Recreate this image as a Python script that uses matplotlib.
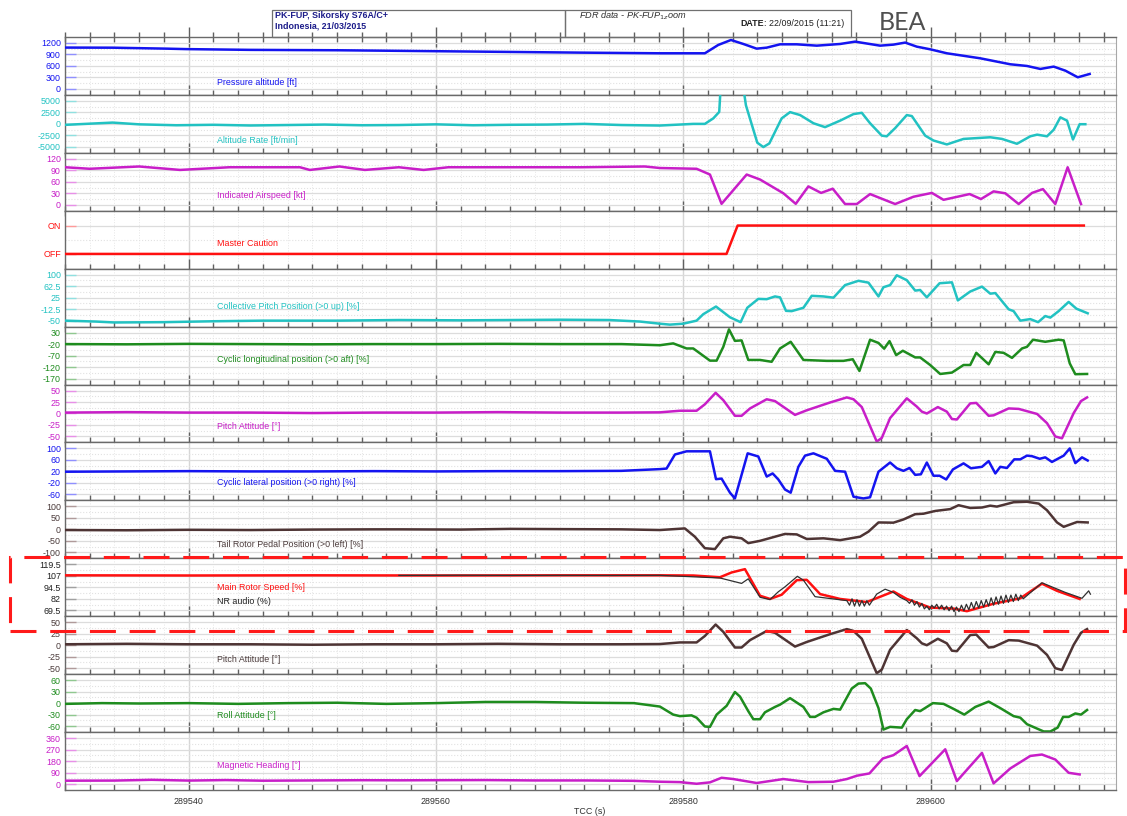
# -*- coding: utf-8 -*-
"""
FDR data - PK-FUP zoom : 13 paramètres empilés en fonction du TCC
"""

import numpy as np
import matplotlib
matplotlib.use("Agg")
import matplotlib.pyplot as plt
from matplotlib.patches import Rectangle
from matplotlib.ticker import MultipleLocator, FixedLocator

plt.rcParams['font.family'] = ['Liberation Sans', 'DejaVu Sans']

TCC0 = 289500.0   # les temps ci-dessous sont en secondes après TCC0

# Pressure altitude [ft]
t_palt = [30, 33.85, 38.2, 39.8, 45, 52, 57, 63.5, 71.7, 78.1, 81.75, 82.83, 83.86,
          84.86, 85.94, 86.75, 87.83, 89.18, 90.8, 92.69, 93.9, 95.92, 97.0, 97.95,
          98.89, 99.97, 101.32, 104.02, 106.45, 107.8, 108.88, 109.96, 110.9, 111.91, 112.87]
palt = [1080, 1077, 1052, 1040, 1020, 1010, 995, 974, 948, 931, 931, 1148, 1278,
        1174, 1052, 1078, 1165, 1165, 1130, 1174, 1235, 1130, 1157, 1210,
        1104, 1035, 931, 800, 644, 600, 522, 583, 478, 304, 391]

# Altitude Rate [ft/min]  (sort du cadre entre 83 et 85 s)
t_vz = [30, 33.85, 36, 39, 42, 45, 48, 51, 54, 57, 60, 63, 66, 69, 72, 75, 78.11,
        80.81, 81.75, 82.43, 82.91, 83.05, 84.80, 85.07, 85.99, 86.48, 86.96, 87.96,
        88.64, 89.45, 90.53, 91.47, 92.69, 93.77, 94.44, 95.11, 96.06, 96.46, 97.14,
        98.08, 98.49, 99.57, 100.24, 101.32, 102.67, 104.83, 105.78, 106.99, 108.07,
        108.62, 109.42, 109.96, 110.5, 111.04, 111.52, 112.06, 112.52]
vz = [-210, 280, -100, -300, -200, -350, -250, -150, -300, -250, -100, -300, -200,
      -150, 0, -250, -360,
      0, 0, 1200, 2600, 9000, 9000, 4050, -4100, -5040, -4260, 1200,
      2560, 1920, 140, -710, 710, 2130, 2410, 140, -2560, -2700, -920,
      1920, 1700, -2560, -3620, -4470, -3270, -2910, -3270, -4330, -2700,
      -2340, -2700, -1280, 1420, 710, -3400, -70, -70]

# Indicated Airspeed [kt]
t_ias = [30, 32, 36, 39.3, 43.3, 49, 49.8, 52.2, 54.25, 57, 59, 61, 66, 71.7, 76.9,
         78.11, 81.08, 82.16, 83.1, 85.13, 86.21, 88.1, 89.1, 90.12, 91.15, 92.09,
         93.09, 94.04, 95.11, 97.14, 98.62, 100.11, 101.05, 103.16, 104.08, 105.1,
         106.05, 107.13, 108.21, 109.09, 110.09, 111.09, 112.17]
ias = [98, 94, 100, 91, 98, 98, 91, 100, 91, 98, 91, 98, 98, 98, 100,
       96, 94, 79, 2.5, 79, 66, 30, 2.5, 48, 31, 42,
       2, 2, 28, 2, 21, 31, 13, 28, 15, 35,
       30, 2, 31, 41, 2, 98, 2]

# Master Caution (0 = OFF, 1 = ON)
t_mc = [30, 83.5, 84.4, 112.4]
mc = [0, 0, 1, 1]

# Collective Pitch Position (>0 up) [%]
t_coll = [30, 32.5, 34, 38, 42, 46, 52, 57, 62, 66, 70, 74, 76.5, 78.11, 78.92,
          80.0, 81.08, 81.62, 82.65, 83.78, 84.64, 85.18, 86.07, 86.75, 87.42, 87.83,
          88.31, 88.77, 89.72, 90.39, 91.34, 92.15, 93.09, 94.17, 94.98, 95.79, 96.19,
          96.73, 97.27, 98.08, 98.76, 99.16, 99.7, 100.73, 101.73, 102.21, 103.21,
          104.16, 104.83, 105.24, 106.32, 106.72, 107.26, 108.07, 108.7, 109.28,
          109.69, 110.36, 111.17, 111.8, 112.71]
coll = [-50, -53, -56, -55, -52, -50, -50, -48, -49, -48, -47, -48, -53, -60, -63,
        -60, -50, -29, -4, -39, -55, -8, 21, 20, 29, 26,
        -18, -19, -8, 31, 29, 25, 66, 80, 74, 29, 59,
        66, 98, 82, 48, 50, 26, 72, 75, 16, 45,
        61, 38, 40, -13, -19, -50, -45, -55, -35,
        -40, -19, 11, -11, -26]

# Cyclic longitudinal position (>0 aft) [%]
t_clon = [30, 35, 40, 45, 50, 55, 60, 65, 70, 75, 78.11, 79.19, 80.27, 80.81, 82.16,
          82.7, 83.24, 83.7, 84.18, 84.72, 85.26, 86.21, 87.15, 87.83, 88.69, 89.72,
          91.61, 92.96, 93.71, 94.25, 95.11, 95.79, 96.25, 96.68, 97.22, 97.76, 98.76,
          99.16, 99.97, 100.78, 101.73, 102.67, 103.21, 103.7, 104.7, 105.24, 105.91,
          106.59, 107.4, 107.8, 108.29, 109.28, 110.36, 110.77, 111.26, 111.71, 112.66]
clon = [-20, -21, -19, -20, -21, -20, -20, -19, -20, -20, -25, -17, -39, -39, -92,
        -92, -32, 44, -6, -4, -89, -89, -97, -39, -10, -89,
        -93, -93, -86, -137, -1, -15, -40, -7, -68, -49, -78,
        -78, -111, -150, -144, -111, -111, -58, -108, -54, -58,
        -80, -39, -32, -1, -10, -1, -4, -104, -151, -150]

# Pitch Attitude [°]
t_pitch = [30, 35, 40, 45, 50, 55, 60, 65, 70, 75, 78.11, 79.73, 81.08, 81.75, 82.62,
           83.24, 84.18, 84.72, 85.4, 86.75, 87.42, 89.04, 89.99, 91.88, 93.23, 93.77,
           94.44, 95.65, 96.06, 96.73, 98.08, 98.89, 99.3, 99.7, 100.59, 101.32,
           101.73, 102.13, 103.21, 103.7, 104.7, 105.1, 106.32, 107.13, 108.62,
           109.42, 110.09, 110.63, 111.58, 112.17, 112.66]
pitch = [2, 3, 2, 2, 1, 2, 2, 3, 2, 2, 2.5, 6, 6, 20, 45,
         29, -5, -5, 11, 31, 27, -3, 7, 24, 35, 31,
         14, -61, -53, -10, 33, 15, 4, 0, 14, 4,
         -12, -13, 22, 23, -5, -4, 11, 10, -1,
         -21, -50, -54, 1, 27, 35]

# Cyclic lateral position (>0 right) [%]
t_clat = [30, 35, 40, 45, 50, 55, 60, 65, 70, 75, 78.11, 78.65, 79.33, 80.27, 82.16,
          82.65, 83.1, 83.78, 84.18, 85.21, 86.07, 86.75, 87.23, 87.69, 88.23, 88.69,
          89.31, 89.85, 90.53, 91.61, 92.28, 93.09, 93.77, 94.57, 95.11, 95.79, 96.73,
          97.27, 97.81, 98.3, 98.76, 99.22, 99.7, 100.24, 100.73, 101.27, 101.81,
          102.67, 103.27, 104.16, 104.7, 105.24, 105.64, 106.18, 106.77, 107.26,
          107.8, 108.21, 108.83, 109.28, 109.82, 110.77, 111.26, 111.71, 112.25, 112.71]
clat = [19, 20, 21, 20, 20, 21, 20, 21, 21, 22, 28, 30, 79, 90, 90,
        -7, -5, -54, -74, 83, 72, 2, 13, -8, -43, -54,
        36, 75, 83, 64, 22, 19, -68, -74, -70, 19, 51,
        31, 22, 32, 8, 10, 51, 5, 5, -8, 27,
        48, 31, 36, 56, 13, 36, 32, 62, 62,
        75, 73, 64, 69, 53, 75, 100, 49, 69, 58]

# Tail Rotor Pedal Position (>0 left) [%]
t_ped = [30, 35, 40, 45, 50, 55, 57, 62, 66, 70, 75, 78.11, 80.13, 80.94, 81.75,
         82.56, 83.24, 83.78, 84.72, 85.26, 86.21, 87.42, 88.23, 89.18, 89.99, 91.34,
         92.69, 94.3, 94.98, 95.79, 97.0, 97.81, 98.76, 99.43, 100.38, 101.59, 102.27,
         103.21, 104.16, 104.83, 105.37, 106.72, 107.8, 108.75, 109.42, 110.23,
         110.77, 111.85, 112.71]
ped = [-3, -4, -2, -3, -1, 0, 0, -1, 2, 1, 0, -3, 4, -32, -82,
       -86, -39, -32, -39, -60, -50, -32, -20, -22, -42, -39,
       -47, -32, -10, 30, 29, 43, 66, 68, 80, 88, 105,
       93, 95, 103, 99, 118, 120, 112, 83, 30,
       11, 32, 30]

# Main Rotor Speed [%]
t_nr = [30, 40, 50, 60, 70, 78.11, 80.81, 82.97, 83.91, 84.99, 86.21, 87.02, 87.96,
        89.18, 89.99, 91.07, 92.69, 94.84, 97.0, 98.08, 99.97, 101.86, 102.94,
        105.1, 107.26, 109.01, 110.23, 112.06]
nr = [107.5, 107.3, 107.5, 107.3, 107.5, 107.5, 107.3, 105.4, 110.6, 114.2, 85.3, 81.8, 86.4,
      102.2, 102.6, 87.1, 81.8, 78.4, 89.9, 81.8, 72.4, 71.3, 68.5,
      76.6, 82.5, 98.4, 90.6, 81.8]

# NR audio (%)
t_nra = [57, 62, 66, 70, 74, 78.11, 82.97, 84.72, 85.26, 86.21, 87.02, 87.69, 88.23,
         89.23, 89.72, 90.66, 92.15, 93.23,
         93.45, 93.65, 93.85, 94.05, 94.25, 94.45, 94.65, 94.85, 95.05,
         95.65, 96.33, 97.0, 97.54, 98.08,
         98.3, 98.5, 98.7, 98.9, 99.1, 99.3, 99.5, 99.7, 99.9,
         100.1, 100.3, 100.5, 100.7, 100.9, 101.1, 101.3, 101.5, 101.7, 101.9,
         102.1, 102.3, 102.5, 102.7, 102.9, 103.1, 103.3, 103.5, 103.7, 103.9,
         104.1, 104.3, 104.5, 104.7, 104.9, 105.1, 105.3, 105.5, 105.7, 105.9,
         106.1, 106.3, 106.5, 106.7, 106.9, 107.1, 107.3, 107.5,
         109.01, 110.9, 112.25, 112.79, 112.93]
nra = [107.4, 107.6, 107.4, 107.5, 107.4, 107.5, 104.6, 98.7, 103.7, 83.6, 81.1, 89.6, 95,
       106.4, 102.2, 84.3, 81.8, 80,
       75, 82, 74, 81, 74, 80, 74, 80, 75,
       87.1, 92.4, 88.9, 83.6, 80,
       77, 81, 75, 79, 73, 77, 71, 74, 70,
       75, 72, 76, 71, 75, 70, 74, 69, 74, 68,
       73, 68, 75, 69, 76, 70, 78, 71, 79, 72,
       80, 73, 81, 74, 83, 75, 84, 76, 85, 77,
       86, 78, 86, 79, 87, 80, 86, 82,
       99.4, 88.9, 82.5, 90.6, 87]

# Roll Attitude [°]
t_roll = [30, 33, 36, 40, 44, 48, 52, 56, 60, 64, 68, 72, 76, 78.11, 79.19, 79.73,
          80.67, 81.08, 81.75, 82.16, 82.7, 83.51, 84.18, 84.59, 85.26, 85.67, 86.21,
          86.61, 87.42, 87.83, 88.64, 89.72, 90.26, 90.66, 91.34, 92.15, 92.69, 93.63,
          94.17, 94.71, 95.17, 95.79, 96.19, 96.73, 97.68, 98.08, 98.76, 99.16,
          100.19, 101.05, 101.86, 102.73, 103.62, 104.7, 105.64, 106.72, 107.26,
          107.8, 109.15, 109.69, 110.28, 110.72, 111.17, 111.71, 112.17, 112.66]
roll = [-2, 0, -1, 0, -2, 0, 1, -2, 0, 3, 3, 1, 0, -9, -30, -34,
        -32, -38, -61, -62, -30, -7, 29, 17, -21, -42, -42,
        -24, -10, -4, 13, -10, -36, -36, -24, -15, -17, 38,
        51, 52, 38, -13, -69, -62, -64, -42, -18, -21,
        0, -2, -15, -30, -10, 4, -13, -34, -38,
        -55, -74, -74, -64, -36, -36, -27, -30, -18]

# Magnetic Heading [°]
t_hdg = [30, 34, 37, 40, 43, 46, 50, 54, 57, 60, 64, 68, 72, 76, 78.11, 79.73, 81.08,
         82.16, 83.1, 84.05, 85.94, 88.1, 90.12, 92.15, 93.23, 94.04, 95.06, 96.14,
         97.0, 98.08, 99.11, 101.19, 102.13, 104.16, 105.1, 106.45, 108.07, 109.01,
         110.09, 111.17, 112.06]
hdg = [26, 27, 33, 27, 31, 26, 28, 30, 29, 30, 31, 28, 28, 25, 18, 15, 2,
       13, 49, 39, 8, 39, 15, 18, 39, 65, 83, 200,
       226, 298, 62, 272, 23, 244, 5, 122, 220, 231,
       192, 88, 75]

BLUE = '#1414f0'
CYAN = '#22c2c2'
MAGENTA = '#c81ec8'
RED = '#ff1010'
GREEN = '#1e8c1e'
BROWN = '#4e3434'

# (t, valeurs, couleur, ticks, libellés, texte, y du texte, couleur du texte, clair)
panels = [
    (t_palt, palt, BLUE, [0, 300, 600, 900, 1200], None,
     'Pressure altitude [ft]', 0.21, BLUE, '#9090ff'),
    (t_vz, vz, CYAN, [-5000, -2500, 0, 2500, 5000], None,
     'Altitude Rate [ft/min]', 0.22, CYAN, '#90e0e0'),
    (t_ias, ias, MAGENTA, [0, 30, 60, 90, 120], None,
     'Indicated Airspeed [kt]', 0.26, MAGENTA, '#e890e8'),
    (t_mc, mc, RED, [0, 1], ['OFF', 'ON'],
     'Master Caution', 0.43, RED, '#ff9a9a'),
    (t_coll, coll, CYAN, [-50, -12.5, 25, 62.5, 100], ['-50', '-12.5', '25', '62.5', '100'],
     'Collective Pitch Position (>0 up) [%]', 0.345, CYAN, '#90e0e0'),
    (t_clon, clon, GREEN, [-170, -120, -70, -20, 30], None,
     'Cyclic longitudinal position (>0 aft) [%]', 0.43, GREEN, '#90c890'),
    (t_pitch, pitch, MAGENTA, [-50, -25, 0, 25, 50], None,
     'Pitch Attitude [°]', 0.276, MAGENTA, '#e890e8'),
    (t_clat, clat, BLUE, [-60, -20, 20, 60, 100], None,
     'Cyclic lateral position (>0 right) [%]', 0.31, BLUE, '#9090ff'),
    (t_ped, ped, BROWN, [-100, -50, 0, 50, 100], None,
     'Tail Rotor Pedal Position (>0 left) [%]', 0.245, '#4a3a3a', '#b09a9a'),
    (t_nr, nr, RED, [69.5, 82, 94.5, 107, 119.5], ['69.5', '82', '94.5', '107', '119.5'],
     'Main Rotor Speed [%]', 0.50, RED, '#a0a0a0'),
    (t_pitch, pitch, BROWN, [-50, -25, 0, 25, 50], None,
     'Pitch Attitude [°]', 0.26, '#4a3a3a', '#b09a9a'),
    (t_roll, roll, GREEN, [-60, -30, 0, 30, 60], None,
     'Roll Attitude [°]', 0.29, GREEN, '#90c890'),
    (t_hdg, hdg, MAGENTA, [0, 90, 180, 270, 360], None,
     'Magnetic Heading [°]', 0.43, MAGENTA, '#e890e8'),
]

W, H = 1127, 816
fig = plt.figure(figsize=(W / 100, H / 100), dpi=100)
gs = fig.add_gridspec(len(panels), 1, left=65 / W, right=1116 / W,
                      top=1 - 37 / H, bottom=1 - 790 / H, hspace=0)
axes = [fig.add_subplot(gs[i]) for i in range(len(panels))]

for i, (ax, p) in enumerate(zip(axes, panels)):
    t, v, col, ticks, labels, name, ly, lcol, light = p
    step = ticks[1] - ticks[0]
    ax.set_xlim(289530, 289615)
    ax.set_ylim(ticks[0] - 0.52 * step, ticks[-1] + 0.52 * step)

    ax.plot(TCC0 + np.array(t), v, color=col, lw=1.8, solid_joinstyle='round', zorder=3)
    if i == 9:
        ax.plot(TCC0 + np.array(t_nra), nra, color='#303030', lw=0.9, zorder=4)

    # axe y
    ax.yaxis.set_major_locator(FixedLocator(ticks))
    mids = [(a + b) / 2 for a, b in zip(ticks[:-1], ticks[1:])]
    ax.yaxis.set_minor_locator(FixedLocator(mids))
    ax.set_yticklabels(labels if labels else [f'{x:g}' for x in ticks])
    dark = '#202020' if i == 9 else lcol
    ax.tick_params(axis='y', which='major', direction='in', length=8, width=1,
                   color=light, labelcolor=dark, labelsize=6.4, pad=3)
    ax.tick_params(axis='y', which='minor', length=0)
    ax.grid(True, axis='y', which='major', color='#dcdcdc', lw=0.9)
    ax.grid(True, axis='y', which='minor', color='#e2e2e2', lw=0.8, ls=':')

    # axe x
    ax.xaxis.set_major_locator(MultipleLocator(20))
    ax.xaxis.set_minor_locator(MultipleLocator(2))
    ax.grid(True, axis='x', which='major', color='#d6d6d6', lw=1)
    ax.grid(True, axis='x', which='minor', color='#e6e6e6', lw=0.7, ls=':')
    last = i == len(panels) - 1
    ax.tick_params(axis='x', which='both', direction='in' if last else 'inout',
                   color='#606060', width=1, top=(i == 0), bottom=True,
                   labelbottom=last, labelsize=6.4, labelcolor='#303030', pad=5)
    ax.tick_params(axis='x', which='minor', length=4 if last else 7)
    ax.tick_params(axis='x', which='major', length=8 if last else 15)
    if last:
        ax.set_xticks([289540, 289560, 289580, 289600])
        ax.set_xticklabels(['289540', '289560', '289580', '289600'])

    for s in ['top', 'bottom', 'left']:
        ax.spines[s].set_color('#6a6a6a')
        ax.spines[s].set_linewidth(1)
    ax.spines['right'].set_color('#a8a8a8')
    ax.set_axisbelow(True)

    ax.text(0.1446, ly, name, transform=ax.transAxes, color=lcol,
            fontsize=6.4, ha='left', va='center', zorder=5)

axes[9].text(0.1446, 0.26, 'NR audio (%)', transform=axes[9].transAxes,
             color='#202020', fontsize=6.4, ha='left', va='center', zorder=5)

fig.text(590 / W, 1 - 811 / H, 'TCC (s)', fontsize=6.4, color='#303030',
         ha='center', va='center')


def px_rect(x0, y0, x1, y1, **kw):
    return Rectangle((x0 / W, 1 - y1 / H), (x1 - x0) / W, (y1 - y0) / H,
                     transform=fig.transFigure, fill=False, **kw)


# cartouches d'en-tête
fig.add_artist(px_rect(272, 10, 565, 37, edgecolor='#707070', lw=0.9))
fig.add_artist(px_rect(565, 10, 851, 37, edgecolor='#707070', lw=0.9))
fig.text(275 / W, 1 - 15 / H, 'PK-FUP, Sikorsky S76A/C+', fontsize=6.4,
         fontweight='bold', color='#1c1c8a', va='center')
fig.text(275 / W, 1 - 25.5 / H, 'Indonesia, 21/03/2015', fontsize=6.4,
         fontweight='bold', color='#1c1c8a', va='center')
fig.text(633 / W, 1 - 16 / H, r'FDR data - PK-FUP$_{\mathit{1z}}$oom', fontsize=6.6,
         style='italic', color='#303030', ha='center', va='center')
fig.text(740 / W, 1 - 24 / H, 'DATE', fontsize=6.4, fontweight='bold',
         color='#202020', va='center')
fig.text(764 / W, 1 - 24 / H, ': 22/09/2015 (11:21)', fontsize=6.4,
         color='#202020', va='center')
fig.text(879 / W, 1 - 22 / H, 'BEA', fontsize=18, color='#505050',
         va='center', ha='left', family=['Lato', 'DejaVu Sans'], fontweight='normal')

# cadre rouge en tirets autour de la vitesse rotor
fig.add_artist(px_rect(10, 557, 1125, 631, edgecolor='#ff1a1a', lw=2.2,
                       linestyle=(0, (8.5, 4.5)), zorder=10))

plt.savefig('out.png', dpi=100)
